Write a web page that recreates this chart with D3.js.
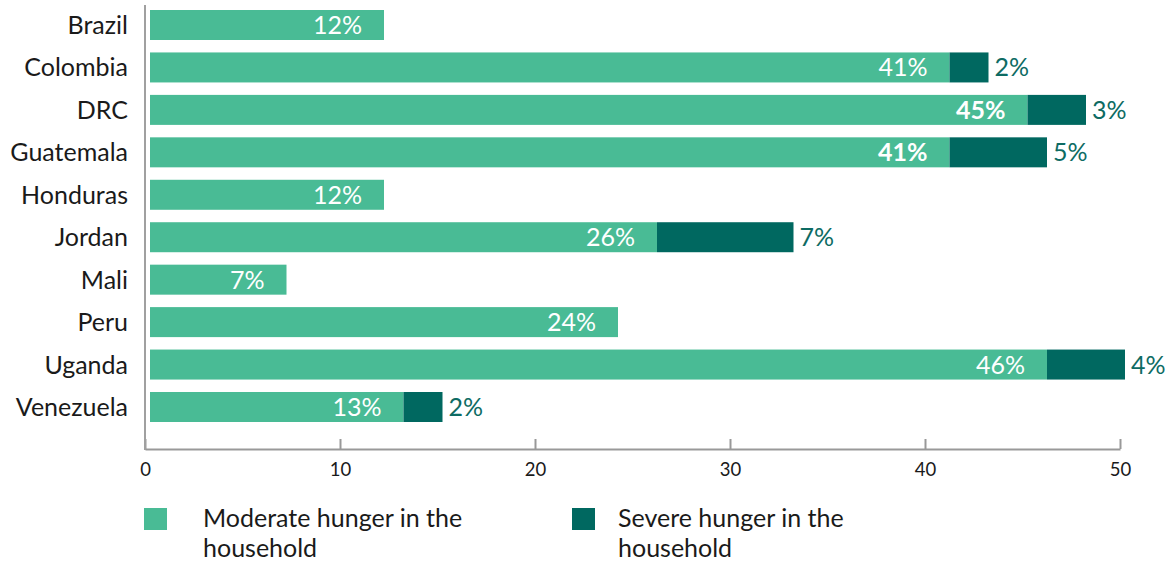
<!DOCTYPE html>
<meta charset="utf-8">
<script src="https://d3js.org/d3.v7.min.js"></script>
<style>
  body { margin: 0; background: #fff; }
  text { font-family: Lato, "Open Sans", sans-serif; }
</style>
<div id="chart"></div>
<script>
// Data
const countries = ["Brazil", "Colombia", "DRC", "Guatemala", "Honduras", "Jordan", "Mali", "Peru", "Uganda", "Venezuela"];
const moderate = [12, 41, 45, 41, 12, 26, 7, 24, 46, 13];
const severe = [0, 2, 3, 5, 0, 7, 0, 0, 4, 2];
const boldLabels = ["DRC", "Guatemala"];
const xTicks = [0, 10, 20, 30, 40, 50];
const seriesNames = ["Moderate hunger in the household", "Severe hunger in the household"];
const colors = ["#49bb95", "#006860"];

const width = 1175, height = 565;

const svg = d3.select("#chart")
  .append("svg")
  .attr("width", width)
  .attr("height", height);

// scales
const x = d3.scaleLinear().domain([0, 50]).range([145, 1120]);
const y = d3.scaleBand().domain(countries).range([10, 422]).paddingInner(0.2932).paddingOuter(0);

const rows = countries.map((c, i) => ({country: c, mod: moderate[i], sev: severe[i]}));

// bars sit slightly off the axis line
const barGap = 5;
const bars = svg.append("g").attr("transform", `translate(${barGap},0)`);

bars.selectAll(".mod")
  .data(rows)
  .join("rect")
    .attr("x", x(0))
    .attr("y", d => y(d.country))
    .attr("width", d => x(d.mod) - x(0))
    .attr("height", y.bandwidth())
    .attr("fill", colors[0]);

bars.selectAll(".sev")
  .data(rows.filter(d => d.sev > 0))
  .join("rect")
    .attr("x", d => x(d.mod))
    .attr("y", d => y(d.country))
    .attr("width", d => x(d.mod + d.sev) - x(d.mod))
    .attr("height", y.bandwidth())
    .attr("fill", colors[1]);

// labels inside moderate bars
bars.selectAll(".modlab")
  .data(rows)
  .join("text")
    .attr("x", d => x(d.mod) - 22)
    .attr("y", d => y(d.country) + y.bandwidth() / 2)
    .attr("dy", "0.36em")
    .attr("text-anchor", "end")
    .attr("fill", "#fff")
    .style("font-size", "25px")
    .style("font-weight", d => boldLabels.includes(d.country) ? "bold" : "normal")
    .text(d => d.mod + "%");

// labels after severe bars
bars.selectAll(".sevlab")
  .data(rows.filter(d => d.sev > 0))
  .join("text")
    .attr("x", d => x(d.mod + d.sev) + 6)
    .attr("y", d => y(d.country) + y.bandwidth() / 2)
    .attr("dy", "0.36em")
    .attr("fill", "#0d6b63")
    .style("font-size", "25px")
    .text(d => d.sev + "%");

// country names
svg.append("g")
  .selectAll("text")
  .data(countries)
  .join("text")
    .attr("x", 128)
    .attr("y", d => y(d) + y.bandwidth() / 2)
    .attr("dy", "0.36em")
    .attr("text-anchor", "end")
    .attr("fill", "#1a1a1a")
    .style("font-size", "25px")
    .text(d => d);

// x axis
const xAxis = svg.append("g")
  .attr("transform", "translate(0,449)")
  .call(d3.axisBottom(x).tickValues(xTicks).tickSize(-10).tickSizeOuter(0).tickPadding(14));
xAxis.select(".domain").attr("stroke", "#999").attr("stroke-width", 2);
xAxis.selectAll(".tick line").attr("stroke", "#999").attr("stroke-width", 2);
xAxis.selectAll(".tick text")
  .attr("fill", "#1a1a1a")
  .style("font-size", "18.5px")
  .style("font-family", "Lato, sans-serif");

// vertical axis line
svg.append("line")
  .attr("x1", x(0)).attr("x2", x(0))
  .attr("y1", 5).attr("y2", 450)
  .attr("stroke", "#a0a0a0")
  .attr("stroke-width", 2);

// legend
const legendX = [144, 572];
const textOffset = [59, 46];
const legend = svg.append("g")
  .selectAll("g")
  .data(seriesNames)
  .join("g")
    .attr("transform", (d, i) => `translate(${legendX[i]},508)`);

legend.append("rect")
  .attr("width", 23)
  .attr("height", 22)
  .attr("fill", (d, i) => colors[i]);

legend.append("text")
  .attr("y", 19)
  .attr("fill", "#1a1a1a")
  .style("font-size", "25px")
  .each(function(d, i) {
    const words = d.split(" ");
    const t = d3.select(this);
    t.append("tspan").attr("x", textOffset[i]).text(words.slice(0, 4).join(" "));
    t.append("tspan").attr("x", textOffset[i]).attr("dy", 30).text(words.slice(4).join(" "));
  });
</script>
